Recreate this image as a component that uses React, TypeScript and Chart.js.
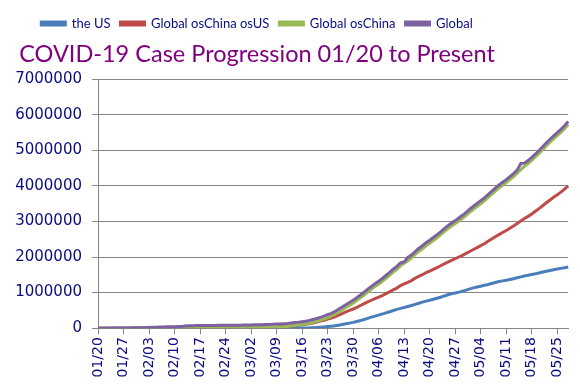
import React, { useEffect, useRef } from "react";
import { Chart, registerables } from "chart.js";

Chart.register(...registerables);

const dates = [
  "01/20","01/21","01/22","01/23","01/24","01/25","01/26","01/27","01/28","01/29","01/30","01/31",
  "02/01","02/02","02/03","02/04","02/05","02/06","02/07","02/08","02/09","02/10","02/11","02/12","02/13","02/14","02/15","02/16","02/17","02/18","02/19","02/20","02/21","02/22","02/23","02/24","02/25","02/26","02/27","02/28","02/29",
  "03/01","03/02","03/03","03/04","03/05","03/06","03/07","03/08","03/09","03/10","03/11","03/12","03/13","03/14","03/15","03/16","03/17","03/18","03/19","03/20","03/21","03/22","03/23","03/24","03/25","03/26","03/27","03/28","03/29","03/30","03/31",
  "04/01","04/02","04/03","04/04","04/05","04/06","04/07","04/08","04/09","04/10","04/11","04/12","04/13","04/14","04/15","04/16","04/17","04/18","04/19","04/20","04/21","04/22","04/23","04/24","04/25","04/26","04/27","04/28","04/29","04/30",
  "05/01","05/02","05/03","05/04","05/05","05/06","05/07","05/08","05/09","05/10","05/11","05/12","05/13","05/14","05/15","05/16","05/17","05/18","05/19","05/20","05/21","05/22","05/23","05/24","05/25","05/26","05/27","05/28",
];

const theUS = [
  0,1,1,1,2,2,5,5,5,5,
  5,6,8,8,11,11,11,12,12,12,
  12,12,13,13,14,14,14,14,14,14,
  14,14,16,16,16,16,16,16,16,16,
  24,30,53,73,104,174,222,337,451,519,
  711,1109,1561,2157,2870,2968,4360,6141,8914,14153,
  19479,25818,33756,43845,53740,65778,83836,101657,121465,140909,
  161831,188172,213372,243762,275586,308853,337072,366667,396223,429052,
  461437,496535,526396,555313,580619,607670,636350,667592,699706,732197,
  758809,784326,811865,840351,869170,905358,938154,965785,988197,1012582,
  1039909,1069424,1103461,1132539,1158040,1180375,1204351,1229331,1257023,1283929,
  1309550,1329260,1347881,1369376,1390406,1417774,1442824,1467820,1486757,1508308,
  1528568,1551853,1577147,1600937,1622612,1643246,1662302,1680913,1699176,1721750,
];

const globalOsChinaOsUS = [
  4,3,6,10,19,26,38,45,64,74,
  88,119,139,149,160,180,192,203,273,303,
  319,403,412,457,472,537,625,708,822,927,
  1019,1121,1275,1585,1944,2289,2629,3194,4122,5178,
  6630,8407,10117,12506,14630,17175,20888,24729,28561,32203,
  36984,43835,45850,62091,72250,83478,96138,109947,124894,147399,
  171437,197401,221762,252892,282714,320214,363973,409737,457242,497086,
  538336,587036,636872,687109,737820,784664,830080,872149,917535,968341,
  1020958,1078050,1126271,1196311,1242181,1285309,1336398,1401699,1456724,1501775,
  1558765,1604116,1653576,1699741,1755831,1806472,1859077,1905336,1951607,2000707,
  2048434,2103466,2156357,2210845,2264025,2318714,2374370,2442042,2504725,2570145,
  2630449,2688428,2745603,2808347,2872583,2940351,3015479,3082194,3142809,3209572,
  3284861,3360556,3441196,3525796,3603664,3680272,3748657,3824610,3908508,4003090,
];

const globalOsChina = [
  4,4,7,11,21,28,43,50,69,79,
  93,125,147,157,171,191,203,215,285,315,
  331,415,425,470,486,551,639,722,836,941,
  1033,1135,1291,1601,1960,2305,2645,3210,4138,5194,
  6654,8437,10170,12579,14734,17349,21110,25066,29012,32722,
  37695,44944,47411,64248,75120,86446,100498,116088,133808,161552,
  190916,223219,255518,296737,336454,385992,447809,511394,578707,637995,
  700167,775208,850244,930871,1013406,1093517,1167152,1238816,1313758,1397393,
  1482395,1574585,1652667,1751624,1822800,1892979,1972748,2069291,2156430,2233972,
  2317574,2388442,2465441,2540092,2625001,2711830,2797231,2871121,2939804,3013289,
  3088343,3172890,3259818,3343384,3422065,3499089,3578721,3671373,3761748,3854074,
  3939999,4017688,4093484,4177723,4262989,4358125,4458303,4550014,4629566,4717880,
  4813429,4912409,5018343,5126733,5226276,5323518,5410959,5505523,5607684,5724840,
];

const globalTotal = [
  282,314,555,654,941,1434,2118,2927,5578,6166,
  8234,9927,12038,16787,19887,23898,27643,30802,34395,37129,
  40160,42769,44811,45229,60381,66909,69052,71235,73270,75152,
  75652,76212,76841,78602,78982,79546,80399,81376,82738,84122,
  86010,88369,90306,92840,95120,97886,101800,105836,109835,113582,
  118582,125865,128343,145193,156097,167449,181531,197146,214910,242708,
  272166,304524,336953,378235,418045,467653,529591,593291,660706,720117,
  782365,857487,932605,1013303,1095917,1176060,1249754,1321481,1396476,1480202,
  1565278,1657526,1735650,1834721,1860000,1990000,2056054,2152647,2240190,2317759,
  2401379,2472259,2549294,2623960,2708885,2795729,2881140,2955033,3023722,3097229,
  3172287,3256846,3343777,3427343,3506029,3583055,3662691,3755341,3845718,3938064,
  4024009,4101699,4177502,4261747,4347018,4442163,4630000,4640000,4713620,4801943,
  4897492,4996472,5102424,5210817,5310362,5407613,5495061,5589626,5691790,5808946,
];

const seriesNames = ["the US", "Global osChina osUS", "Global osChina", "Global"];
const seriesColors = ["#4A7EBB", "#BE4B48", "#98B954", "#7D60A0"];
const yTickMax = 7000000;
const yTickStep = 1000000;
const xLabelEvery = 7;
const titleText = "COVID-19 Case Progression 01/20 to Present";

const NAVY = "#0B0B80";
const GRID = "#868686";

export default function App() {
  const ref = useRef<HTMLCanvasElement>(null);

  useEffect(() => {
    const values = [theUS, globalOsChinaOsUS, globalOsChina, globalTotal];
    const chart = new Chart(ref.current as HTMLCanvasElement, {
      type: "line",
      data: {
        labels: dates,
        datasets: values.map((v, i) => ({
          label: seriesNames[i],
          data: v,
          borderColor: seriesColors[i],
          backgroundColor: seriesColors[i],
          borderWidth: 3,
          pointRadius: 0,
          tension: 0,
          fill: false,
          order: values.length - i,
        })),
      },
      options: {
        responsive: false,
        animation: false,
        layout: { padding: { top: 7, right: 6, bottom: 8.5, left: 0 } },
        plugins: {
          tooltip: { enabled: false },
          legend: {
            position: "top",
            weight: 3000,
            labels: {
              boxWidth: 24,
              boxHeight: 3,
              padding: 10,
              color: NAVY,
              font: { family: "Lato", size: 13 },
              sort: (a: any, b: any) => a.datasetIndex - b.datasetIndex,
            },
          } as any,
          title: {
            display: true,
            text: titleText,
            color: "#800080",
            font: { family: "Lato", size: 23.5, weight: "normal" },
            padding: { top: 0, bottom: 11 },
          },
        },
        scales: {
          x: {
            type: "category",
            offset: false,
            grid: {
              drawOnChartArea: false,
              drawTicks: true,
              tickLength: 6,
              color: (ctx: any) => (ctx.index % xLabelEvery === 0 ? GRID : "rgba(0,0,0,0)"),
            },
            border: { color: GRID, width: 1 },
            ticks: {
              autoSkip: false,
              minRotation: 90,
              maxRotation: 90,
              padding: 3,
              color: NAVY,
              font: { family: "DejaVu Sans", size: 14 },
              callback: (_v: any, i: number) => (i % xLabelEvery === 0 ? dates[i] : ""),
            },
          },
          y: {
            min: 0,
            max: yTickMax,
            afterFit: (s: any) => {
              s.width = 166;
            },
            grid: { color: GRID, lineWidth: 1, drawTicks: true, tickLength: 6 },
            border: { color: GRID, width: 1 },
            ticks: {
              stepSize: yTickStep,
              padding: 10,
              color: NAVY,
              font: { family: "DejaVu Sans", size: 15 },
              callback: (v: any) => String(v),
            },
          },
        },
      },
    });
    return () => chart.destroy();
  }, []);

  return (
    <div
      style={{
        position: "fixed",
        left: 0,
        top: 0,
        width: 580,
        height: 389,
        overflow: "hidden",
        background: "#ffffff",
      }}
    >
      <div style={{ position: "absolute", left: -68, top: 0, width: 656, height: 389 }}>
        <canvas ref={ref} width={656} height={389} style={{ display: "block", width: 656, height: 389 }} />
      </div>
    </div>
  );
}
